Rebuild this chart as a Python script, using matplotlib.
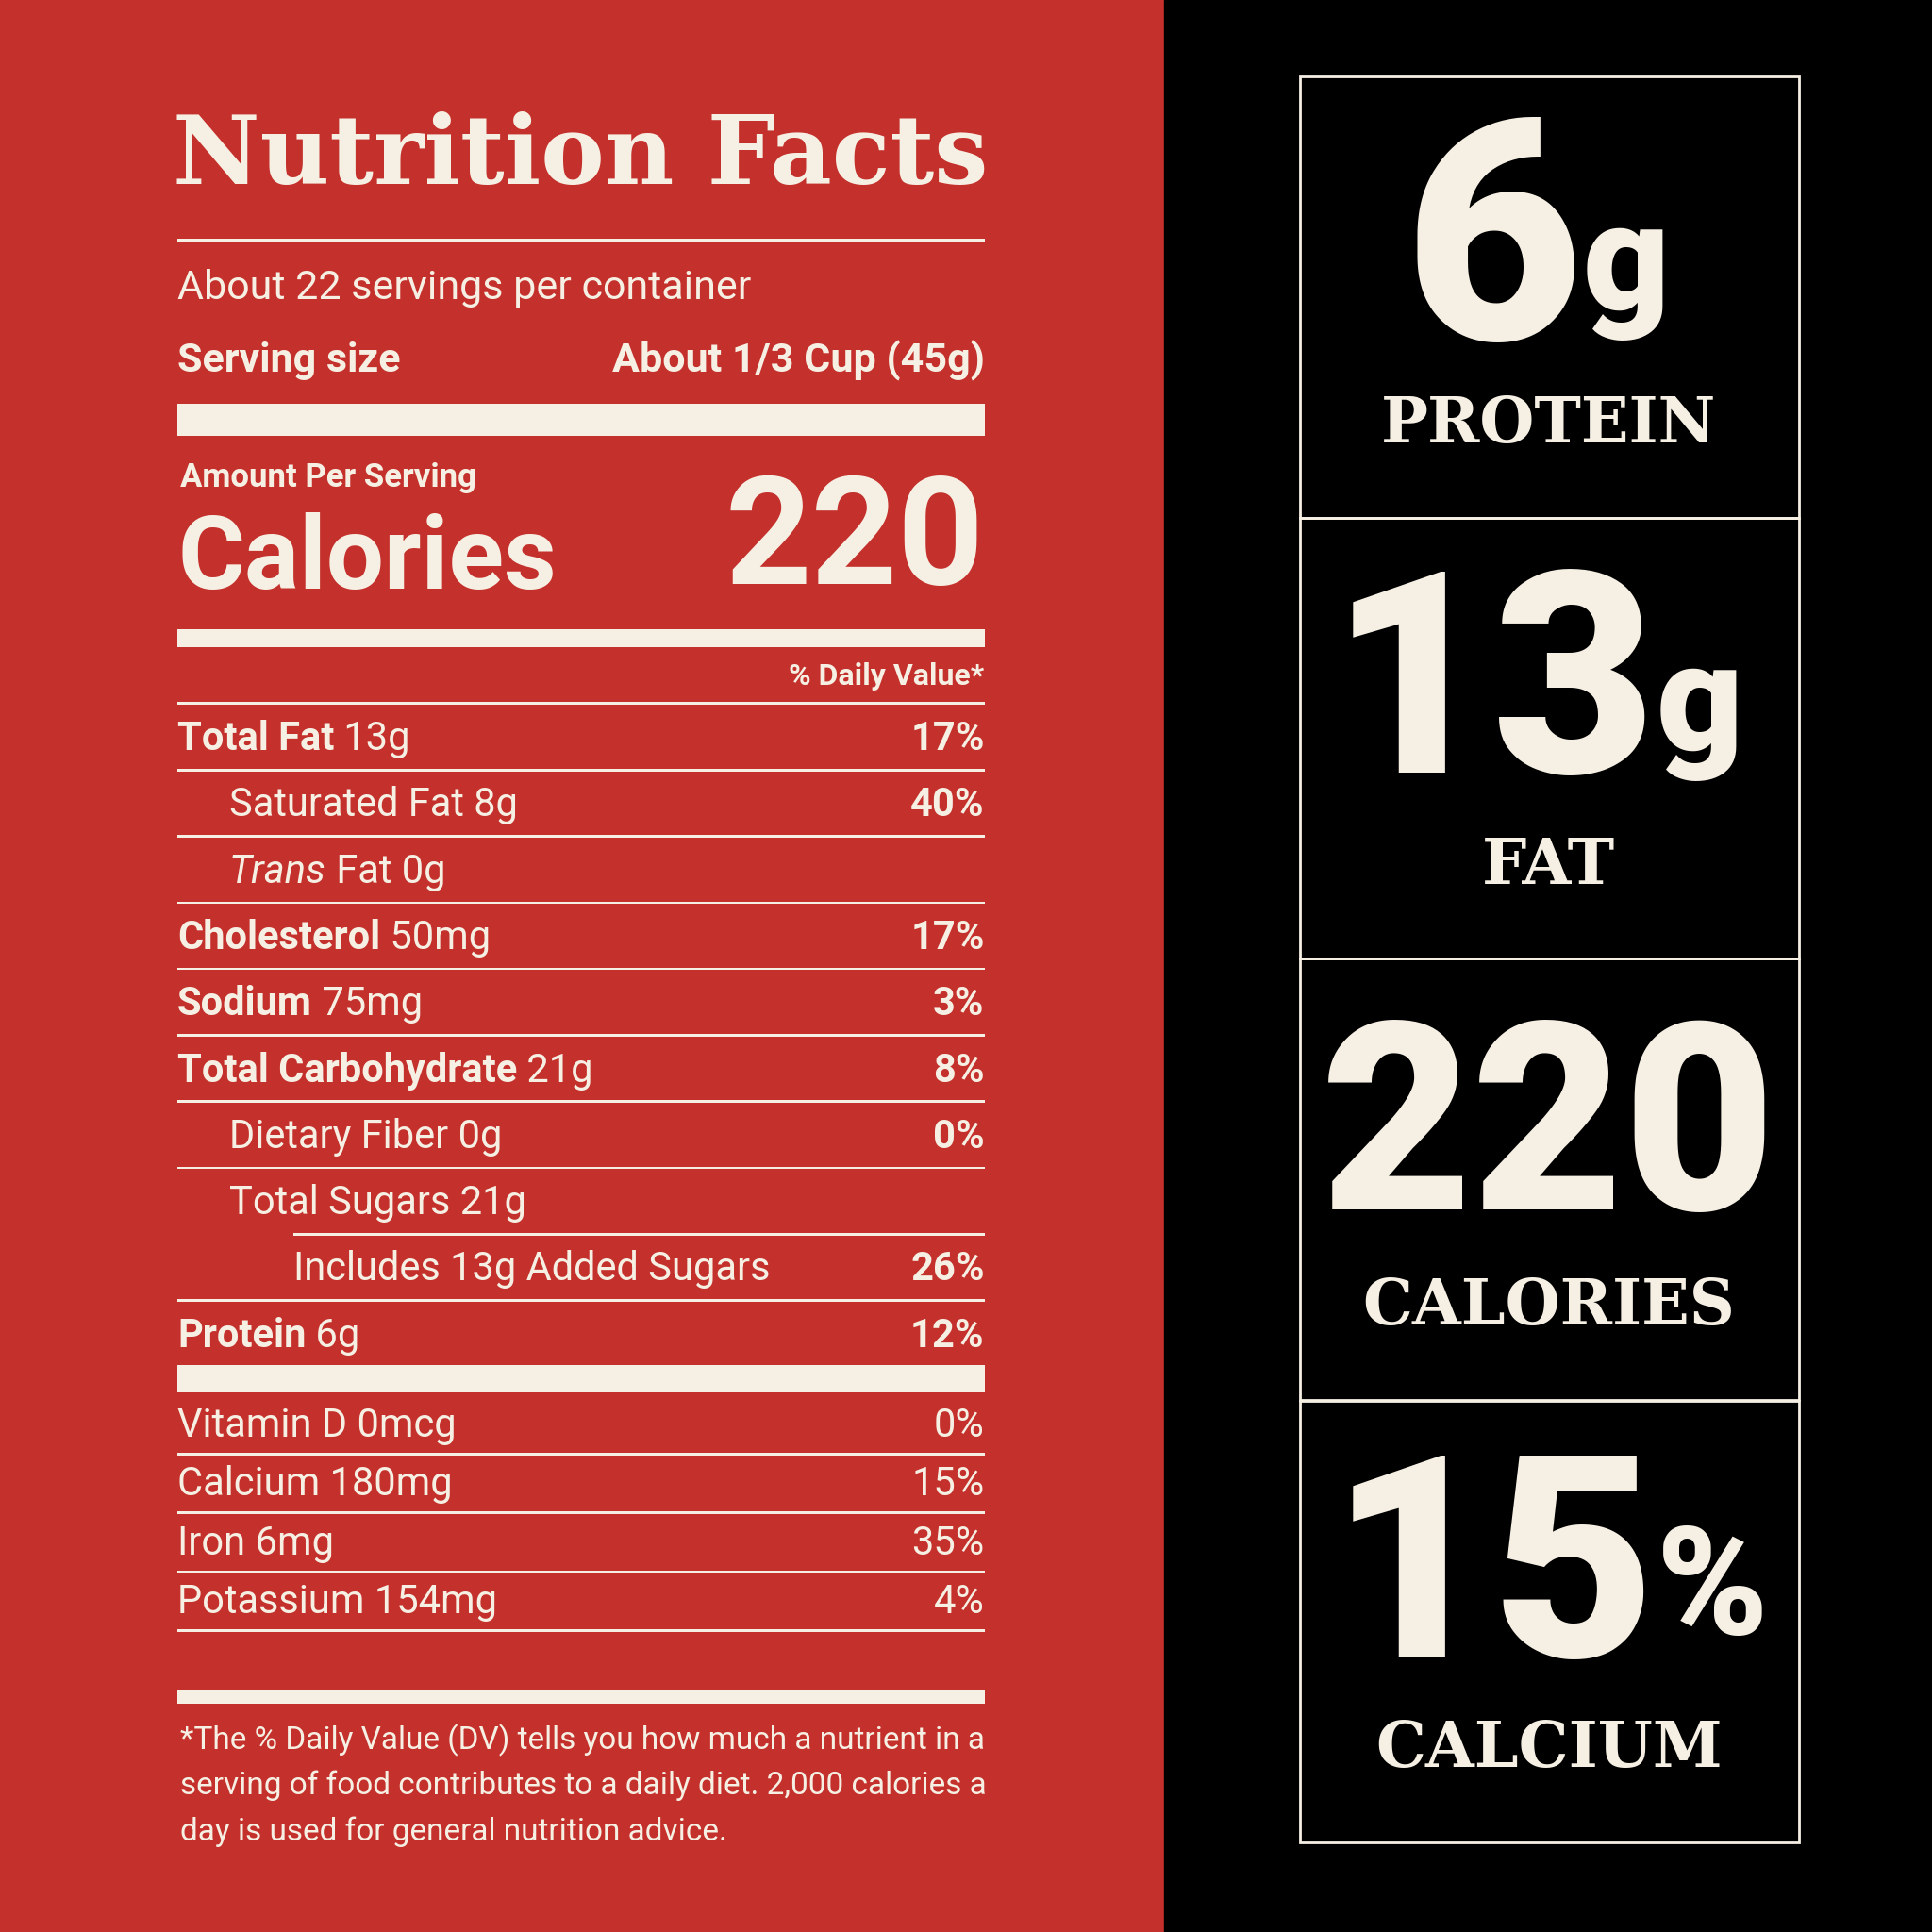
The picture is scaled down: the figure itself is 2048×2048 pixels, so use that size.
import matplotlib
matplotlib.use('Agg')
import matplotlib.pyplot as plt
from matplotlib.patches import Rectangle

RED = '#C4302B'
CREAM = '#F6F0E4'
BLK = '#000000'
SANS = 'Roboto'
SERIF = 'DejaVu Serif'

# nutrient rows: bold part, regular part, %DV, indent level
row_bold = ['Total Fat', '', '', 'Cholesterol', 'Sodium', 'Total Carbohydrate', '', '', '', 'Protein']
row_text = [' 13g', 'Saturated Fat 8g', 'Trans Fat 0g', ' 50mg', ' 75mg', ' 21g',
            'Dietary Fiber 0g', 'Total Sugars 21g', 'Includes 13g Added Sugars', ' 6g']
row_pct = ['17%', '40%', '', '17%', '3%', '8%', '0%', '', '26%', '12%']
row_indent = [0, 1, 1, 0, 0, 0, 1, 1, 2, 0]

vit_names = ['Vitamin D 0mcg', 'Calcium 180mg', 'Iron 6mg', 'Potassium 154mg']
vit_pct = ['0%', '15%', '35%', '4%']

box_big = ['6', '13', '220', '15']
box_unit = ['g', 'g', '', '%']
box_label = ['PROTEIN', 'FAT', 'CALORIES', 'CALCIUM']

fig = plt.figure(figsize=(20.48, 20.48), dpi=100)
ax = fig.add_axes([0, 0, 1, 1])
ax.set_xlim(0, 1568); ax.set_ylim(1568, 0); ax.axis('off')
ax.add_patch(Rectangle((0, 0), 945, 1568, color=RED, zorder=0))
ax.add_patch(Rectangle((945, 0), 623, 1568, color=BLK, zorder=0))

L, R = 144, 799
def hline(y, w=2, x0=L):
    ax.add_patch(Rectangle((x0, y - w / 2), R - x0, w, color=CREAM, lw=0))
def t(x, y, s, size, ha='left', weight='normal', style='normal', family=SANS):
    ax.text(x, y, s, fontsize=size, ha=ha, va='center', color=CREAM,
            fontweight=weight, fontstyle=style, family=family)

t(140, 128, 'Nutrition Facts', 73, weight='bold', family=SERIF)
hline(195)
t(L, 234, 'About 22 servings per container', 31)
t(L, 293, 'Serving size', 31, weight='bold')
t(R, 293, 'About 1/3 Cup (45g)', 31, ha='right', weight='bold')
hline(341, 26)
t(L + 2, 388, 'Amount Per Serving', 25, weight='bold')
t(L, 455, 'Calories', 78, weight='bold')
t(R, 440, '220', 115, ha='right', weight='bold')
hline(518, 14)
t(R, 549, '% Daily Value*', 23, ha='right', weight='bold')
hline(571)

y = 600
for i, (b, s, p, ind) in enumerate(zip(row_bold, row_text, row_pct, row_indent)):
    x = L + [0, 42, 94][ind]
    if b:
        tb = ax.text(x, y, b, fontsize=30, ha='left', va='center', color=CREAM,
                     fontweight='bold', family=SANS)
        ax.annotate(s, xycoords=tb, xy=(1, 0.5), va='center', ha='left',
                    fontsize=30, color=CREAM, family=SANS)
    elif s.startswith('Trans'):
        tb = ax.text(x, y, 'Trans', fontsize=30, ha='left', va='center', color=CREAM,
                     fontstyle='italic', family=SANS)
        ax.annotate(' Fat 0g', xycoords=tb, xy=(1, 0.5), va='center', ha='left',
                    fontsize=30, color=CREAM, family=SANS)
    else:
        t(x, y, s, 30)
    if p:
        t(R, y, p, 30, ha='right', weight='bold')
    if i < len(row_bold) - 1:
        hline(y + 25, 2, 238 if s.startswith('Total Sugars') else L)
    y += 53.8
hline(1119, 22)

y = 1157
for n, p in zip(vit_names, vit_pct):
    t(L, y, n, 30); t(R, y, p, 30, ha='right')
    hline(y + 23)
    y += 47.8
hline(1377, 12)
for yy, s in zip([1412, 1449, 1487],
                 ['*The % Daily Value (DV) tells you how much a nutrient in a',
                  'serving of food contributes to a daily diet. 2,000 calories a',
                  'day is used for general nutrition advice.']):
    t(L + 2, yy, s, 24)

# right panel boxes
tops = [62, 420, 778, 1137]
big_sizes = [235, 215, 200, 215]
for k, top in enumerate(tops):
    ax.add_patch(Rectangle((1055, top), 405, 358, fill=False, ec=CREAM, lw=2))
    cx = 1257
    big = ax.text(cx - (45 if box_unit[k] else 0), top + 145, box_big[k], fontsize=big_sizes[k],
                  ha='center', va='center', color=CREAM, fontweight='black', family=SANS)
    if box_unit[k]:
        ax.annotate(box_unit[k], xycoords=big, xy=(1.0, 0.45), ha='left', va='center',
                    fontsize=115, color=CREAM, fontweight='black', family=SANS)
    t(cx, top + 283, box_label[k], 48, ha='center', weight='bold', family=SERIF)

fig.savefig('out.png', dpi=100)
